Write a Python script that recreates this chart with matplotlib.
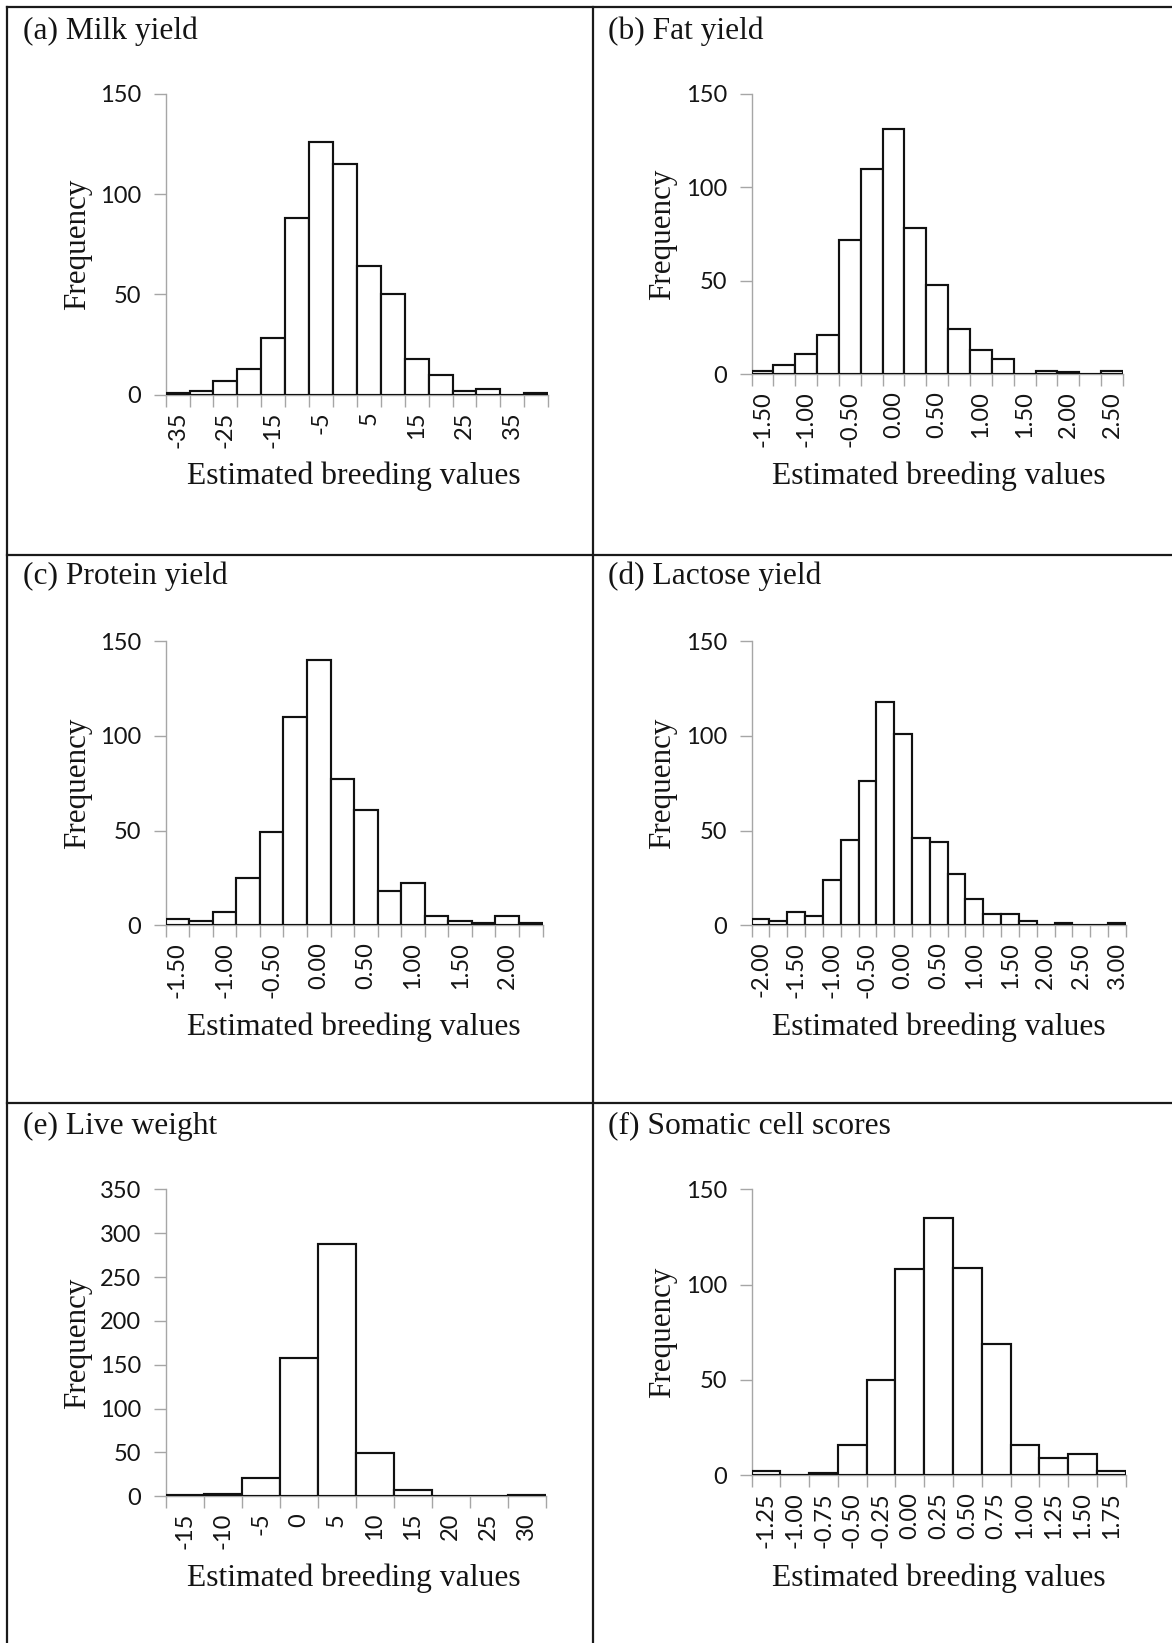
import matplotlib
matplotlib.use("Agg")
import matplotlib.pyplot as plt
from matplotlib.lines import Line2D

# ---------------- data ----------------
milk_labels = ["-35", "-30", "-25", "-20", "-15", "-10", "-5", "0", "5", "10",
               "15", "20", "25", "30", "35", "40"]
milk_counts = [1, 2, 7, 13, 28, 88, 126, 115, 64, 50, 18, 10, 2, 3, 0, 1]

fat_labels = ["-1.50", "-1.25", "-1.00", "-0.75", "-0.50", "-0.25", "0.00", "0.25",
              "0.50", "0.75", "1.00", "1.25", "1.50", "1.75", "2.00", "2.25", "2.50"]
fat_counts = [2, 5, 11, 21, 72, 110, 131, 78, 48, 24, 13, 8, 0, 2, 1, 0, 2]

protein_labels = ["-1.50", "-1.25", "-1.00", "-0.75", "-0.50", "-0.25", "0.00", "0.25",
                  "0.50", "0.75", "1.00", "1.25", "1.50", "1.75", "2.00", "2.25"]
protein_counts = [3, 2, 7, 25, 49, 110, 140, 77, 61, 18, 22, 5, 2, 1, 5, 1]

lactose_labels = ["-2.00", "-1.75", "-1.50", "-1.25", "-1.00", "-0.75", "-0.50", "-0.25",
                  "0.00", "0.25", "0.50", "0.75", "1.00", "1.25", "1.50", "1.75",
                  "2.00", "2.25", "2.50", "2.75", "3.00"]
lactose_counts = [3, 2, 7, 5, 24, 45, 76, 118, 101, 46, 44, 27, 14, 6, 6, 2, 0, 1, 0, 0, 1]

liveweight_labels = ["-15", "-10", "-5", "0", "5", "10", "15", "20", "25", "30"]
liveweight_counts = [1, 3, 21, 158, 288, 49, 7, 0, 0, 1]

scs_labels = ["-1.25", "-1.00", "-0.75", "-0.50", "-0.25", "0.00", "0.25", "0.50",
              "0.75", "1.00", "1.25", "1.50", "1.75"]
scs_counts = [2, 0, 1, 16, 50, 108, 135, 109, 69, 16, 9, 11, 2]

titles = ["(a) Milk yield", "(b) Fat yield", "(c) Protein yield",
          "(d) Lactose yield", "(e) Live weight", "(f) Somatic cell scores"]

# ---------------- layout ----------------
W, H = 1172, 1643
fig = plt.figure(figsize=(W / 100, H / 100), dpi=100)
fig.patch.set_facecolor("white")

SERIF = ["Liberation Serif", "DejaVu Serif"]
SANS = ["Lato", "DejaVu Sans"]
AXGRAY = "#a6a6a6"
TXT = "#141414"
TICKFS = 17


def fx(x):
    return x / W


def fy(y):
    return 1 - y / H


# (labels, counts, label step, ymax, axes box in px [left, top, right, bottom])
panels = [
    (milk_labels, milk_counts, 2, 150, (165.6, 94.0, 548.2, 394.6)),
    (fat_labels, fat_counts, 2, 150, (751.6, 93.7, 1122.9, 374.3)),
    (protein_labels, protein_counts, 2, 150, (165.6, 641.3, 542.6, 925.1)),
    (lactose_labels, lactose_counts, 2, 150, (751.6, 641.3, 1125.9, 925.1)),
    (liveweight_labels, liveweight_counts, 1, 350, (165.6, 1189.4, 545.6, 1496.2)),
    (scs_labels, scs_counts, 1, 150, (751.6, 1189.4, 1125.6, 1475.3)),
]

col_x0 = [0, 585]
title_y = [31, 576, 1126]
xlab_y = [476.5, 1027.5, 1578.5]

for i, (labels, counts, step, ymax, box) in enumerate(panels):
    l, t, r, b = box
    ax = fig.add_axes([fx(l), fy(b), fx(r) - fx(l), fy(t) - fy(b)])
    n = len(counts)
    pos = list(range(n))
    ax.bar(pos, counts, width=1.0, color="white", edgecolor="#111111",
           linewidth=1.55, zorder=3)
    ax.set_xlim(-0.5, n - 0.5)
    ax.set_ylim(0, ymax)
    yt = list(range(0, ymax + 1, 50))
    ax.set_yticks(yt)
    ax.set_yticklabels([str(v) for v in yt], fontfamily=SANS, fontsize=TICKFS,
                       color=TXT)
    # category boundaries as major ticks, labels on minor ticks at category centres
    ax.set_xticks([p - 0.5 for p in range(n + 1)])
    ax.set_xticklabels([])
    lab_pos = [p for p in pos if p % step == 0]
    ax.set_xticks(lab_pos, minor=True)
    ax.set_xticklabels([labels[p] for p in lab_pos], minor=True, rotation=90,
                       fontfamily=SANS, fontsize=TICKFS, color=TXT)
    ax.tick_params(axis="x", which="major", length=8.5, width=1.0, color=AXGRAY,
                   direction="out")
    ax.tick_params(axis="x", which="minor", length=0, pad=12)
    ax.tick_params(axis="y", length=8.5, width=1.0, color=AXGRAY, direction="out",
                   pad=9)
    for s in ("top", "right"):
        ax.spines[s].set_visible(False)
    for s in ("left", "bottom"):
        ax.spines[s].set_color(AXGRAY)
        ax.spines[s].set_linewidth(1.0)
    ax.set_facecolor("none")

    col, row = i % 2, i // 2
    x0 = col_x0[col]
    fig.text(fx(x0 + 23), fy(title_y[row]), titles[i], fontfamily=SERIF,
             fontsize=22.7, color=TXT, ha="left", va="center")
    fig.text(fx(x0 + 78), fy((t + b) / 2), "Frequency", fontfamily=SERIF,
             fontsize=22.4, color=TXT, rotation=90, ha="center", va="center")
    fig.text(fx(x0 + 354), fy(xlab_y[row]), "Estimated breeding values",
             fontfamily=SERIF, fontsize=22.8, color=TXT, ha="center", va="center")

# panel frame lines
lw = 1.6
fc = "#1a1a1a"
fig.add_artist(Line2D([fx(7), fx(7)], [fy(6.5), 0], transform=fig.transFigure,
                      color=fc, lw=lw))
fig.add_artist(Line2D([fx(593), fx(593)], [fy(6.5), 0], transform=fig.transFigure,
                      color=fc, lw=lw))
for yy in (7, 555, 1103):
    fig.add_artist(Line2D([fx(6.5), 1], [fy(yy), fy(yy)], transform=fig.transFigure,
                          color=fc, lw=lw))

fig.savefig("out.png", dpi=100, facecolor="white")
